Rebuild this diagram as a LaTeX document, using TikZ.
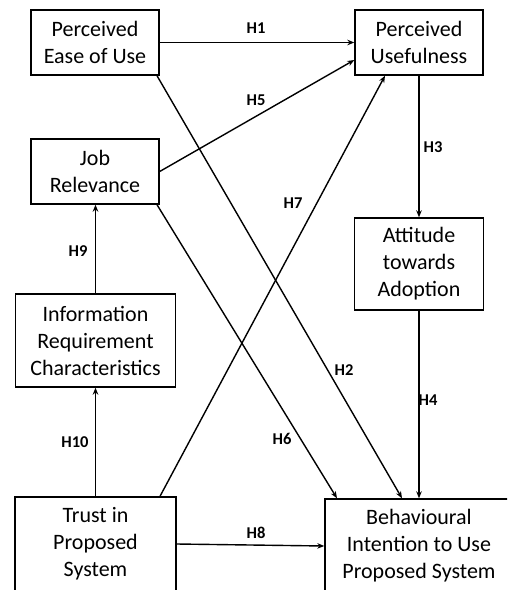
\documentclass[tikz,border=0pt]{standalone}
\usepackage{fontspec}
\setmainfont{Carlito}
\usetikzlibrary{arrows.meta}
\begin{document}
\begin{tikzpicture}[x=1pt,y=-1pt,
  box/.style={draw,line width=1.4pt,align=center,inner sep=0pt,
    font=\fontsize{22}{27}\selectfont},
  arr/.style={line width=1.4pt,-{Stealth[length=7pt,width=5.5pt]}},
  hlab/.style={font=\fontsize{16.5}{19}\selectfont\bfseries,inner sep=0pt}]
\useasboundingbox (0,0) rectangle (507,590);
\clip (0,0) rectangle (507,590);
\node[box,minimum width=128pt,minimum height=65pt] (peou) at (95,42.5) {Perceived\\Ease of Use};
\node[box,minimum width=128pt,minimum height=65pt] (pu) at (419,42.5) {Perceived\\Usefulness};
\node[box,minimum width=128pt,minimum height=65pt] (jr) at (95,171.5) {Job\\Relevance};
\node[box,minimum width=129pt,minimum height=92pt] (ata) at (419,264) {Attitude\\towards\\Adoption};
\node[box,minimum width=160pt,minimum height=93pt] (irc) at (95.5,340.5) {Information\\Requirement\\Characteristics};
\node[box,minimum width=161pt,minimum height=94pt] (tips) at (95.5,544) {Trust in\\Proposed\\System};
\node[box,minimum width=188pt,minimum height=94pt] (bitu) at (419,546) {Behavioural\\Intention to Use\\Proposed System};
\draw[arr] (peou.east) -- (pu.west);
\draw[arr] (jr.east) -- ([yshift=-17.5pt]pu.west);
\draw[arr] ([xshift=64.5pt]tips.north) -- ([xshift=-34pt]pu.south);
\draw[arr] ([xshift=62pt]peou.south) -- ([xshift=-17pt]bitu.north);
\draw[arr] ([xshift=62pt]jr.south) -- ([xshift=-82pt]bitu.north);
\draw[arr] (pu.south) -- (pu.south |- ata.north);
\draw[arr] (ata.south) -- (ata.south |- bitu.north);
\draw[arr] (irc.north) -- (irc.north |- jr.south);
\draw[arr] (tips.north) -- (irc.south);
\draw[arr] (tips.east) -- (bitu.west);
\node[hlab] (h1) at (256,28) {H1};
\node[hlab] (h5) at (256,100) {H5};
\node[hlab] (h3) at (433,147) {H3};
\node[hlab] (h7) at (293,203) {H7};
\node[hlab] (h9) at (78,251) {H9};
\node[hlab] (h2) at (344,370) {H2};
\node[hlab] (h4) at (428,400) {H4};
\node[hlab] (h10) at (75,442) {H10};
\node[hlab] (h6) at (282,439) {H6};
\node[hlab] (h8) at (256,533) {H8};
\end{tikzpicture}
\end{document}
